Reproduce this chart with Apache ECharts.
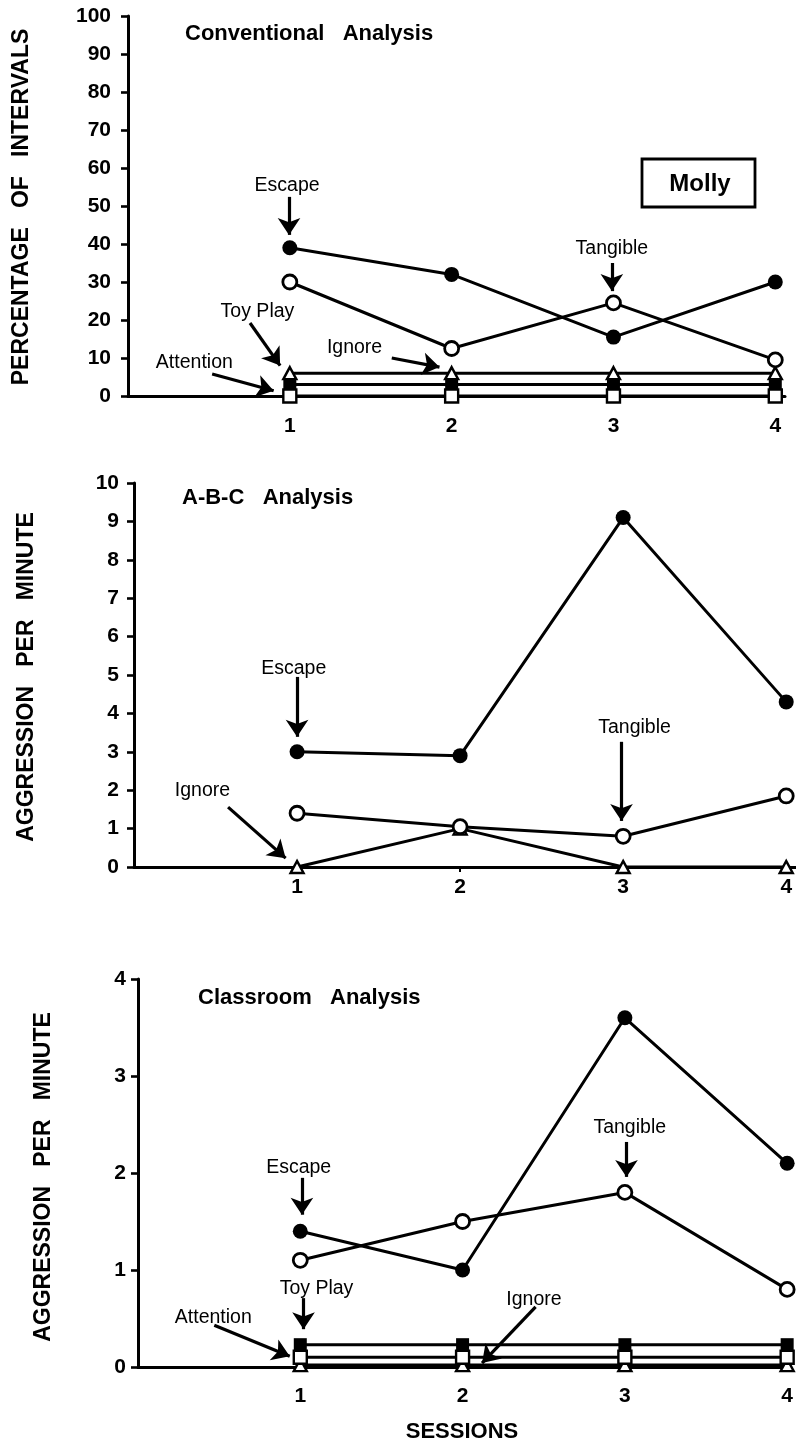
<!DOCTYPE html>
<html><head><meta charset="utf-8">
<script src="https://cdn.jsdelivr.net/npm/echarts@6/dist/echarts.min.js"></script>
<style>html,body{margin:0;padding:0;background:#fff}#c{width:796px;height:1444px}</style>
</head><body><div id="c"></div>
<script>
// ---------- data ----------
const sessions = [1, 2, 3, 4];
const sessionLabels = ['1', '2', '3', '4'];

// Conventional Analysis (percentage of intervals)
const convEscape    = [39, 32, 15.5, 30];
const convTangible  = [30, 12.5, 24.5, 9.5];
const convIgnore    = [6, 6, 6, 6];
const convToyPlay   = [3, 3, 3, 3];
const convAttention = [0, 0, 0, 0];

// A-B-C Analysis (aggression per minute)
const abcEscape   = [3.0, 2.9, 9.1, 4.3];
const abcTangible = [1.4, 1.05, 0.8, 1.85];
const abcIgnore   = [0, 1.0, 0, 0];

// Classroom Analysis (aggression per minute)
const clsEscape    = [1.4, 1.0, 3.6, 2.1];
const clsTangible  = [1.1, 1.5, 1.8, 0.8];
const clsToyPlay   = [0.23, 0.23, 0.23, 0.23];
const clsAttention = [0.1, 0.1, 0.1, 0.1];
const clsIgnore    = [0.02, 0.02, 0.02, 0.02];

// annotation texts
const convNoteTexts = ['Escape', 'Tangible', 'Toy Play', 'Attention', 'Ignore'];
const abcNoteTexts  = ['Escape', 'Tangible', 'Ignore'];
const clsNoteTexts  = ['Escape', 'Tangible', 'Toy Play', 'Attention', 'Ignore'];

// ---------- annotation placement (data coordinates) ----------
const convNotePos = [
  {at: [0.983, 55.3], from: [0.995, 52.4], to: [0.995, 42.4]},
  {at: [2.99, 38.7],  from: [2.99, 35.0],  to: [2.99, 27.6]},
  {at: [0.80, 22.1],  from: [0.754, 19.2], to: [0.94, 8.0]},
  {at: [0.41, 8.9],   from: [0.52, 5.8],   to: [0.90, 1.4]},
  {at: [1.40, 12.6],  from: [1.63, 10.0],  to: [1.925, 7.6]}
];
const abcNotePos = [
  {at: [0.98, 5.16], from: [1.0, 4.95],  to: [1.0, 3.39]},
  {at: [3.07, 3.62], from: [2.99, 3.26], to: [2.99, 1.2]},
  {at: [0.42, 2.0],  from: [0.577, 1.56], to: [0.93, 0.23]}
];
const clsNotePos = [
  {at: [0.99, 2.06], from: [1.01, 1.95], to: [1.01, 1.57]},
  {at: [3.03, 2.47], from: [3.01, 2.32], to: [3.01, 1.96]},
  {at: [1.10, 0.81], from: [1.02, 0.71], to: [1.02, 0.39]},
  {at: [0.464, 0.505], from: [0.47, 0.43], to: [0.935, 0.11]},
  {at: [2.44, 0.69], from: [2.45, 0.62], to: [2.12, 0.04]}
];

const FONT = '"Liberation Sans", Arial, Helvetica, sans-serif';

const markerStyles = {
  fcircle: {symbol: 'circle', symbolSize: 15, itemStyle: {color: '#000', borderColor: '#000', borderWidth: 0}},
  ocircle: {symbol: 'circle', symbolSize: 14, itemStyle: {color: '#fff', borderColor: '#000', borderWidth: 2.8}},
  tri:     {symbol: 'triangle', symbolSize: [13, 12], itemStyle: {color: '#fff', borderColor: '#000', borderWidth: 2.4}},
  fsq:     {symbol: 'rect', symbolSize: 13, itemStyle: {color: '#000', borderColor: '#000', borderWidth: 0}},
  osq:     {symbol: 'rect', symbolSize: 13, itemStyle: {color: '#fff', borderColor: '#000', borderWidth: 2.4}}
};

function mkSeries(grid, name, values, kind, z) {
  return Object.assign({
    type: 'line', name: name, xAxisIndex: grid, yAxisIndex: grid,
    data: sessions.map((s, i) => [s, values[i]]),
    lineStyle: {color: '#000', width: 3},
    showSymbol: true, showAllSymbol: true, clip: false, silent: true,
    emphasis: {disabled: true}, z: z || 2
  }, markerStyles[kind]);
}

function notesSeries(grid, texts, pos) {
  return {
    type: 'line', name: 'notes' + grid, xAxisIndex: grid, yAxisIndex: grid,
    data: [], silent: true, z: 5,
    markLine: {
      silent: true, animation: false, symbol: ['none', 'arrow'], symbolSize: 17,
      lineStyle: {color: '#000', width: 3.2, type: 'solid'},
      itemStyle: {color: '#000'},
      label: {show: false}, emphasis: {disabled: true},
      data: pos.map(p => [{coord: p.from}, {coord: p.to}])
    },
    markPoint: {
      silent: true, animation: false, symbol: 'circle', symbolSize: 1,
      itemStyle: {color: 'rgba(0,0,0,0)'},
      label: {show: true, position: 'inside', formatter: '{b}', color: '#000',
              fontSize: 19.5, fontFamily: FONT, textBorderWidth: 0},
      data: pos.map((p, i) => ({name: texts[i], coord: p.at}))
    }
  };
}

function xAx(grid, max, margin) {
  return {
    type: 'value', gridIndex: grid, min: 0, max: max, interval: 1,
    axisLine: {show: true, onZero: false, lineStyle: {color: '#000', width: 3}},
    axisTick: {show: true, length: 5, lineStyle: {color: '#000', width: 2}, customValues: sessions},
    axisLabel: {
      show: true, margin: margin, customValues: sessions, color: '#000',
      fontSize: 21, fontWeight: 'bold', fontFamily: FONT,
      formatter: v => {
        const i = sessions.indexOf(Math.round(v));
        return (i >= 0 && Math.abs(v - Math.round(v)) < 1e-6) ? sessionLabels[i] : '';
      }
    },
    splitLine: {show: false}
  };
}
function yAx(grid, max, interval, margin) {
  return {
    type: 'value', gridIndex: grid, min: 0, max: max, interval: interval,
    axisLine: {show: true, lineStyle: {color: '#000', width: 3}},
    axisTick: {show: true, inside: false, length: 7, lineStyle: {color: '#000', width: 2.6}},
    axisLabel: {show: true, margin: margin, color: '#000', fontSize: 21, fontWeight: 'bold', fontFamily: FONT},
    splitLine: {show: false}
  };
}

function txt(x, y, text, font, align, rot) {
  return {
    type: 'text', x: x, y: y, rotation: rot || 0, silent: true, z: 10,
    style: {text: text, font: font, fill: '#000',
            textAlign: align, align: align, textVerticalAlign: 'middle', verticalAlign: 'middle'}
  };
}

const chart = echarts.init(document.getElementById('c'), null, {renderer: 'canvas'});
chart.setOption({
  animation: false,
  backgroundColor: '#fff',
  grid: [
    {left: 128, top: 16,  width: 657, height: 380},
    {left: 134, top: 483, right: 0, height: 384},
    {left: 138, top: 979, right: 0, height: 388}
  ],
  xAxis: [xAx(0, 4.06, 20), xAx(1, 4.06, 10), xAx(2, 4.02, 19)],
  yAxis: [yAx(0, 100, 10, 17), yAx(1, 10, 1, 15), yAx(2, 4, 1, 12)],
  series: [
    mkSeries(0, 'Escape', convEscape, 'fcircle', 3),
    mkSeries(0, 'Tangible', convTangible, 'ocircle', 3),
    mkSeries(0, 'Toy Play', convToyPlay, 'fsq', 2),
    mkSeries(0, 'Attention', convAttention, 'osq', 2),
    mkSeries(0, 'Ignore', convIgnore, 'tri', 2),
    notesSeries(0, convNoteTexts, convNotePos),

    mkSeries(1, 'Escape', abcEscape, 'fcircle', 3),
    mkSeries(1, 'Ignore', abcIgnore, 'tri', 2),
    mkSeries(1, 'Tangible', abcTangible, 'ocircle', 3),
    notesSeries(1, abcNoteTexts, abcNotePos),

    mkSeries(2, 'Escape', clsEscape, 'fcircle', 3),
    mkSeries(2, 'Tangible', clsTangible, 'ocircle', 3),
    mkSeries(2, 'Ignore', clsIgnore, 'tri', 2),
    mkSeries(2, 'Toy Play', clsToyPlay, 'fsq', 2),
    mkSeries(2, 'Attention', clsAttention, 'osq', 2),
    notesSeries(2, clsNoteTexts, clsNotePos)
  ],
  graphic: [
    txt(22, 207, 'PERCENTAGE   OF   INTERVALS', 'bold 23px ' + FONT, 'center', Math.PI / 2),
    txt(27, 677, 'AGGRESSION   PER   MINUTE', 'bold 23px ' + FONT, 'center', Math.PI / 2),
    txt(44, 1177, 'AGGRESSION   PER   MINUTE', 'bold 23px ' + FONT, 'center', Math.PI / 2),
    txt(185, 34, 'Conventional   Analysis', 'bold 22px ' + FONT, 'left'),
    txt(182, 498, 'A-B-C   Analysis', 'bold 22px ' + FONT, 'left'),
    txt(198, 998, 'Classroom   Analysis', 'bold 22px ' + FONT, 'left'),
    txt(462, 1432, 'SESSIONS', 'bold 22px ' + FONT, 'center'),
    {type: 'rect', silent: true, z: 10, shape: {x: 642, y: 159, width: 113, height: 48},
     style: {fill: '#fff', stroke: '#000', lineWidth: 2.8}},
    txt(700, 184, 'Molly', 'bold 24px ' + FONT, 'center')
  ]
});
</script>
</body></html>
